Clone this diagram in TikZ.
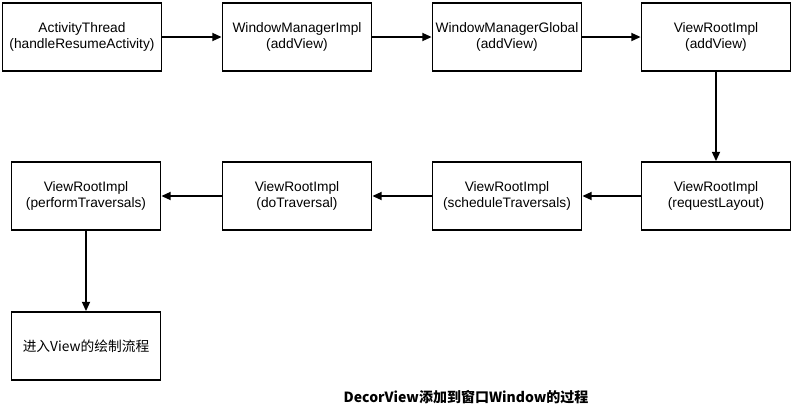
\documentclass[tikz,border=0pt]{standalone}
\usepackage{fontspec}
\setmainfont{Liberation Sans}
\newfontfamily\cjk{Noto Sans CJK SC}
\usetikzlibrary{arrows.meta}
\begin{document}
\begin{tikzpicture}[x=0.75pt,y=-0.75pt,
  box/.style={draw, line width=1.3pt, minimum width=149*0.75pt, minimum height=68*0.75pt, align=center, font=\fontsize{10.3}{12}\selectfont, inner sep=0pt},
  conn/.style={line width=1.3pt, -{Triangle[length=7pt,width=6pt]}}]
\useasboundingbox (0,0) rectangle (792,412);
\node[box, minimum width=159*0.75pt] (a1) at (82,37) {ActivityThread\\(handleResumeActivity)};
\node[box] (a2) at (297,37) {WindowManagerImpl\\(addView)};
\node[box] (a3) at (507,37) {WindowManagerGlobal\\(addView)};
\node[box] (a4) at (716,37) {ViewRootImpl\\(addView)};
\node[box] (b4) at (716,196) {ViewRootImpl\\(requestLayout)};
\node[box] (b3) at (507,196) {ViewRootImpl\\(scheduleTraversals)};
\node[box] (b2) at (297,196) {ViewRootImpl\\(doTraversal)};
\node[box] (b1) at (86,196) {ViewRootImpl\\(performTraversals)};
\node[box] (c1) at (86,346) {\cjk 进入View的绘制流程};
\node[font=\cjk\bfseries\fontsize{10.5}{12}\selectfont] (cap) at (466,397) {DecorView添加到窗口Window的过程};
\draw[conn] (a1) -- (a2);
\draw[conn] (a2) -- (a3);
\draw[conn] (a3) -- (a4);
\draw[conn] (a4) -- (b4);
\draw[conn] (b4) -- (b3);
\draw[conn] (b3) -- (b2);
\draw[conn] (b2) -- (b1);
\draw[conn] (b1) -- (c1);
\end{tikzpicture}
\end{document}
